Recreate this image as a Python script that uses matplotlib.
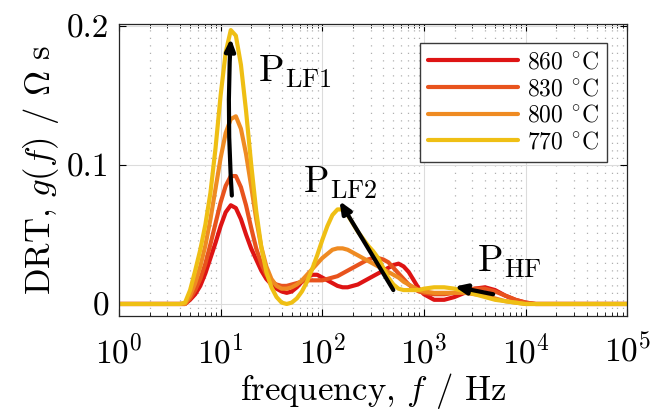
import numpy as np
import matplotlib.pyplot as plt
import matplotlib.ticker as mticker

plt.rcParams.update({
    "font.family": "serif",
    "font.serif": ["cmr10"],
    "mathtext.fontset": "cm",
    "axes.unicode_minus": False,
    "axes.formatter.use_mathtext": True,
})

# -----------------------------
# Data
# -----------------------------
log_f = [0.0, 0.6, 0.65, 0.7, 0.75, 0.8, 0.85, 0.9, 0.95, 1.0,
         1.05, 1.1, 1.15, 1.2, 1.25, 1.3, 1.35, 1.4, 1.45, 1.5,
         1.55, 1.6, 1.65, 1.7, 1.75, 1.8, 1.85, 1.9, 1.95, 2.0,
         2.05, 2.1, 2.15, 2.2, 2.25, 2.3, 2.35, 2.4, 2.45, 2.5,
         2.55, 2.6, 2.65, 2.7, 2.75, 2.8, 2.85, 2.9, 2.95, 3.0,
         3.1, 3.2, 3.3, 3.4, 3.5, 3.6, 3.7, 3.8, 3.9, 4.0, 4.1, 4.2, 4.3, 4.4,
         5.0]

g_860 = [0, 0, 0.000, 0.003, 0.007, 0.013, 0.022, 0.033, 0.044, 0.056,
         0.066, 0.071, 0.069, 0.061, 0.050, 0.040, 0.032, 0.024, 0.018, 0.014,
         0.011, 0.009, 0.008, 0.009, 0.012, 0.016, 0.019, 0.021, 0.021, 0.019,
         0.017, 0.015, 0.013, 0.012, 0.012, 0.013, 0.014, 0.016, 0.018, 0.020,
         0.022, 0.024, 0.026, 0.028, 0.029, 0.027, 0.023, 0.017, 0.011, 0.007,
         0.003, 0.003, 0.005, 0.008, 0.011, 0.012, 0.010, 0.006, 0.003, 0.001, 0, 0, 0, 0,
         0]

g_830 = [0, 0, 0.000, 0.004, 0.010, 0.018, 0.029, 0.043, 0.058, 0.073,
         0.085, 0.092, 0.092, 0.084, 0.071, 0.055, 0.040, 0.029, 0.021, 0.016,
         0.014, 0.013, 0.013, 0.014, 0.015, 0.016, 0.017, 0.017, 0.017, 0.017,
         0.018, 0.019, 0.020, 0.022, 0.024, 0.026, 0.028, 0.030, 0.032, 0.033,
         0.033, 0.032, 0.030, 0.026, 0.022, 0.018, 0.014, 0.011, 0.009, 0.008,
         0.007, 0.007, 0.008, 0.010, 0.011, 0.011, 0.009, 0.006, 0.003, 0.001, 0, 0, 0, 0,
         0]

g_800 = [0, 0, 0.000, 0.006, 0.015, 0.027, 0.042, 0.061, 0.083, 0.105,
         0.123, 0.133, 0.135, 0.126, 0.108, 0.085, 0.061, 0.041, 0.027, 0.018,
         0.013, 0.011, 0.011, 0.012, 0.014, 0.017, 0.021, 0.025, 0.029, 0.033,
         0.036, 0.039, 0.040, 0.040, 0.039, 0.037, 0.035, 0.033, 0.031, 0.029,
         0.027, 0.025, 0.023, 0.021, 0.019, 0.016, 0.014, 0.012, 0.010, 0.009,
         0.008, 0.008, 0.008, 0.008, 0.007, 0.006, 0.004, 0.002, 0.001, 0, 0, 0, 0, 0,
         0]

g_770 = [0, 0, 0.001, 0.010, 0.024, 0.039, 0.057, 0.080, 0.112, 0.150,
         0.181, 0.197, 0.193, 0.172, 0.139, 0.101, 0.067, 0.041, 0.023, 0.012,
         0.005, 0.001, 0.000, 0.001, 0.004, 0.009, 0.016, 0.025, 0.035, 0.046,
         0.056, 0.064, 0.068, 0.068, 0.064, 0.058, 0.052, 0.047, 0.042, 0.038,
         0.033, 0.026, 0.019, 0.014, 0.011, 0.010, 0.010, 0.010, 0.010, 0.011,
         0.012, 0.012, 0.011, 0.009, 0.007, 0.005, 0.003, 0.002, 0.001, 0, 0, 0, 0, 0,
         0]

labels = [r"860 $^{\circ}$C", r"830 $^{\circ}$C", r"800 $^{\circ}$C", r"770 $^{\circ}$C"]
colors = ["#de1414", "#e8531d", "#ef8b22", "#efbf14"]

freq = 10.0 ** np.array(log_f)

# -----------------------------
# Plot
# -----------------------------
fig, ax = plt.subplots(figsize=(6.5, 4.11), dpi=100)
fig.subplots_adjust(left=0.183, right=0.965, top=0.942, bottom=0.232)

for g, lab, c in zip([g_860, g_830, g_800, g_770], labels, colors):
    ax.plot(freq, g, color=c, lw=3, label=lab, solid_capstyle="round")

# arrows showing the peak shifts
arrow = dict(arrowstyle="-|>,head_length=0.7,head_width=0.3", color="black", lw=3,
             shrinkA=0, shrinkB=0)
ax.annotate("", xy=(12.6, 0.191), xytext=(12.9, 0.078),
            arrowprops=dict(arrow, connectionstyle="arc3,rad=-0.03"))
ax.annotate("", xy=(148, 0.074), xytext=(500, 0.010), arrowprops=arrow)
ax.annotate("", xy=(2000, 0.0125), xytext=(4800, 0.007), arrowprops=arrow)

ax.text(54, 0.167, r"$\mathrm{P}_{\mathrm{LF1}}$", fontsize=27, ha="center", va="center")
ax.text(150, 0.087, r"$\mathrm{P}_{\mathrm{LF2}}$", fontsize=27, ha="center", va="center")
ax.text(7000, 0.030, r"$\mathrm{P}_{\mathrm{HF}}$", fontsize=27, ha="center", va="center")

# -----------------------------
# Formatting
# -----------------------------
ax.set_xscale("log")
ax.set_xlim(1, 1e5)
ax.set_ylim(-0.0084, 0.2015)
ax.set_yticks([0, 0.1, 0.2])
ax.set_yticklabels(["0", "0.1", "0.2"])
ax.xaxis.set_major_locator(mticker.LogLocator(base=10, numticks=10))
ax.xaxis.set_minor_locator(mticker.LogLocator(base=10, subs=np.arange(2, 10), numticks=20))
ax.xaxis.set_minor_formatter(mticker.NullFormatter())

ax.tick_params(which="both", direction="in", top=True, right=True, labelsize=24)
ax.tick_params(which="major", length=5, width=0.8, pad=7)
ax.tick_params(axis="x", which="major", pad=13)
ax.tick_params(which="minor", length=3, width=0.6)

ax.grid(True, which="major", color="#dcdcdc", lw=0.8)
ax.grid(True, which="minor", axis="x", color="#b0b0b0", lw=0.9, linestyle=(0, (1, 5)))
ax.set_axisbelow(True)
for s in ax.spines.values():
    s.set_color("#262626")
    s.set_linewidth(0.9)

ax.set_xlabel(r"frequency, $f$ / Hz", fontsize=25, labelpad=1)
ax.set_ylabel(r"DRT, $g(f)$ / $\Omega$ s", fontsize=25, labelpad=4)

leg = ax.legend(loc="upper right", fontsize=17, handlelength=3.8, frameon=True,
                fancybox=False, edgecolor="#3a3a3a", framealpha=1,
                borderpad=0.35, labelspacing=0.2, handletextpad=0.4,
                borderaxespad=0, bbox_to_anchor=(0.961, 0.935))
leg.get_frame().set_linewidth(1.0)

fig.savefig("out.png", dpi=100)
